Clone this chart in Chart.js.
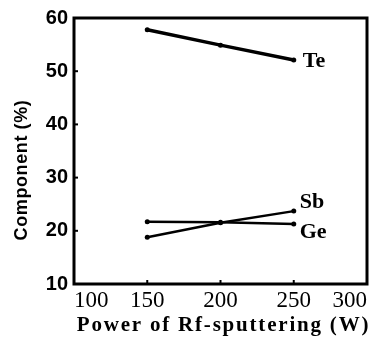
<!DOCTYPE html>
<html>
<head>
<meta charset="utf-8">
<script src="https://cdn.jsdelivr.net/npm/chart.js@4/dist/chart.umd.min.js"></script>
<style>
  html, body { margin: 0; padding: 0; background: #fff; }
  canvas { display: block; }
</style>
</head>
<body>
<canvas id="chart" width="382" height="344"></canvas>
<script>
// Sputtering power (W) and film composition (%)
const powers = [150, 200, 250];
const teValues = [57.8, 54.9, 52.1];
const sbValues = [18.8, 21.5, 23.7];
const geValues = [21.7, 21.6, 21.3];
const seriesNames = ['Te', 'Sb', 'Ge'];
const xTickValues = [100, 150, 200, 250, 300];
const yTickValues = [10, 20, 30, 40, 50, 60];
const xTitle = 'Power of Rf-sputtering (W)';
const yTitle = 'Component (%)';

const toPoints = vals => powers.map((p, i) => ({ x: p, y: vals[i] }));

const serif = "'Liberation Serif', 'Times New Roman', serif";
const sans = "'Liberation Sans', Arial, sans-serif";

function makeSeries(name, vals, width, dx, dy) {
  return {
    label: name,
    data: toPoints(vals),
    borderColor: '#000',
    backgroundColor: '#000',
    borderWidth: width,
    pointRadius: 2.5,
    pointBackgroundColor: '#000',
    pointBorderWidth: 0,
    tension: 0,
    borderCapStyle: 'round',
    labelDx: dx,
    labelDy: dy
  };
}

// frame, inward tick marks, end-of-line labels and axis titles
const decorations = {
  id: 'decorations',
  afterDatasetsDraw(chart) {
    const { ctx, chartArea: a, scales } = chart;
    ctx.save();
    ctx.strokeStyle = '#000';
    ctx.fillStyle = '#000';
    ctx.lineWidth = 3;
    ctx.strokeRect(a.left, a.top, a.right - a.left, a.bottom - a.top);

    ctx.lineWidth = 2;
    scales.x.ticks.forEach(t => {
      const px = scales.x.getPixelForValue(t.value);
      ctx.beginPath();
      ctx.moveTo(px, a.bottom);
      ctx.lineTo(px, a.bottom - 4);
      ctx.stroke();
    });
    scales.y.ticks.forEach(t => {
      const py = scales.y.getPixelForValue(t.value);
      ctx.beginPath();
      ctx.moveTo(a.left, py);
      ctx.lineTo(a.left + 4, py);
      ctx.stroke();
    });

    ctx.font = 'bold 22px ' + serif;
    ctx.textAlign = 'left';
    ctx.textBaseline = 'middle';
    chart.data.datasets.forEach((ds, i) => {
      const pts = chart.getDatasetMeta(i).data;
      const last = pts[pts.length - 1];
      ctx.fillText(ds.label, last.x + ds.labelDx, last.y + ds.labelDy);
    });

    ctx.textAlign = 'center';
    ctx.font = 'bold 21px ' + serif;
    ctx.letterSpacing = '1.8px';
    ctx.fillText(xTitle, (a.left + a.right) / 2 + 3, 326);

    ctx.translate(22, (a.top + a.bottom) / 2 + 19);
    ctx.rotate(-Math.PI / 2);
    ctx.font = 'bold 18px ' + sans;
    ctx.letterSpacing = '0.6px';
    ctx.fillText(yTitle, 0, 0);
    ctx.restore();
  }
};

new Chart(document.getElementById('chart'), {
  type: 'line',
  data: {
    datasets: [
      makeSeries(seriesNames[0], teValues, 3.5, 9, 1),
      makeSeries(seriesNames[1], sbValues, 2.5, 6, -9),
      makeSeries(seriesNames[2], geValues, 2.5, 6, 8)
    ]
  },
  options: {
    responsive: false,
    animation: false,
    devicePixelRatio: 1,
    layout: { padding: { top: 12, right: 15, left: 0, bottom: 0 } },
    plugins: { legend: { display: false }, tooltip: { enabled: false } },
    scales: {
      x: {
        type: 'linear',
        min: 100,
        max: 300,
        afterBuildTicks: s => { s.ticks = xTickValues.map(v => ({ value: v })); },
        afterFit: s => { s.height = 60; },
        grid: { display: false, drawTicks: false },
        border: { display: false },
        ticks: {
          color: '#000',
          align: 'inner',
          padding: 3,
          maxRotation: 0,
          font: { family: serif, size: 23, weight: 'normal' }
        }
      },
      y: {
        min: 10,
        max: 60,
        afterBuildTicks: s => { s.ticks = yTickValues.map(v => ({ value: v })); },
        afterFit: s => { s.width = 74; },
        grid: { display: false, drawTicks: false },
        border: { display: false },
        ticks: {
          color: '#000',
          padding: 6,
          font: { family: sans, size: 20, weight: 'bold' }
        }
      }
    }
  },
  plugins: [decorations]
});
</script>
</body>
</html>
